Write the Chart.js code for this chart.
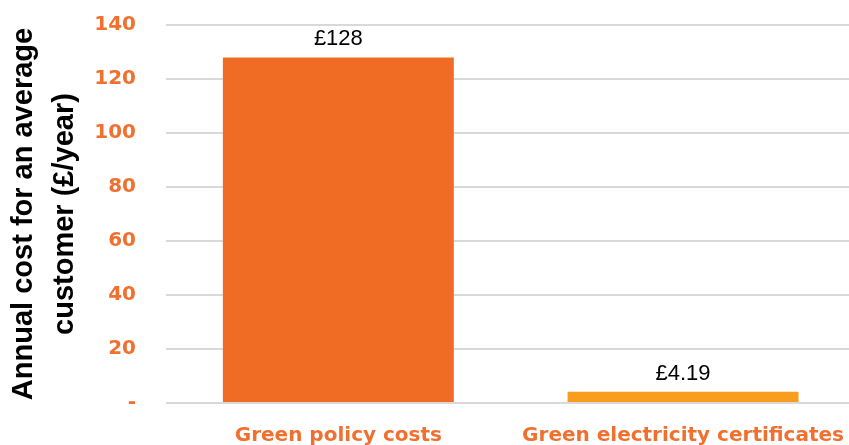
<!DOCTYPE html>
<html>
<head>
<meta charset="utf-8">
<title>Annual cost for an average customer</title>
<script src="https://cdn.jsdelivr.net/npm/chart.js"></script>
<style>
    html, body { margin: 0; padding: 0; overflow: hidden; background: #fff; }
    #wrap { width: 857px; height: 445px; }
</style>
<script>
    const categories = ['Green policy costs', 'Green electricity certificates'];
    const costs = [128, 4.19];
    const costLabels = ['£128', '£4.19'];
    const yTicks = [0, 20, 40, 60, 80, 100, 120, 140];

    const orange = '#F06C24';
    const amber = '#F89D1E';
    const tickOrange = '#F07030';

    // writes the £ value above each bar
    const valueLabels = {
        id: 'valueLabels',
        afterDatasetsDraw(chart) {
            const ctx = chart.ctx;
            const meta = chart.getDatasetMeta(0);
            ctx.save();
            ctx.font = '22px "Liberation Sans", Arial, sans-serif';
            ctx.fillStyle = '#000';
            ctx.textAlign = 'center';
            ctx.textBaseline = 'alphabetic';
            meta.data.forEach(function(bar, i) {
                ctx.fillText(costLabels[i], bar.x, bar.y - 12);
            });
            ctx.restore();
        }
    };

    function createChart() {
        const ctx = document.getElementById('costChart').getContext('2d');
        new Chart(ctx, {
            type: 'bar',
            data: {
                labels: categories,
                datasets: [{
                    data: costs,
                    backgroundColor: [orange, amber],
                    borderWidth: 0,
                    barPercentage: 0.67,
                    categoryPercentage: 1
                }]
            },
            options: {
                responsive: false,
                animation: false,
                layout: { padding: { top: 25, left: 0, right: 0, bottom: 0 } },
                plugins: {
                    legend: { display: false },
                    tooltip: { enabled: false }
                },
                scales: {
                    x: {
                        grid: { display: false },
                        border: { display: false },
                        ticks: {
                            color: tickOrange,
                            padding: 13,
                            maxRotation: 0,
                            font: { family: '"DejaVu Sans"', weight: 'bold', size: 20 }
                        },
                        afterFit(scale) { scale.height = 42; }
                    },
                    y: {
                        min: 0,
                        max: 140,
                        afterBuildTicks(scale) {
                            scale.ticks = yTicks.map(v => ({ value: v }));
                        },
                        grid: { color: '#D9D9D9', lineWidth: 2, drawTicks: false },
                        border: { display: false },
                        ticks: {
                            color: tickOrange,
                            padding: 30,
                            font: { family: '"DejaVu Sans"', weight: 'bold', size: 20 },
                            callback: v => v === 0 ? '-' : v
                        },
                        title: {
                            display: true,
                            text: ['Annual cost for an average', 'customer (£/year)'],
                            color: '#000',
                            padding: { top: 4, bottom: 0 },
                            font: { family: '"Liberation Sans"', weight: 'bold', size: 29, lineHeight: 1.4 }
                        },
                        afterFit(scale) {
                            scale.width = 166;
                            // the tick padding would otherwise push the plot down
                            scale.paddingTop = 0;
                            scale.paddingBottom = 0;
                        }
                    }
                }
            },
            plugins: [valueLabels]
        });
    }

    document.addEventListener('DOMContentLoaded', createChart);
</script>
</head>
<body>
    <div id="wrap"><canvas id="costChart" width="857" height="445"></canvas></div>
</body>
</html>
